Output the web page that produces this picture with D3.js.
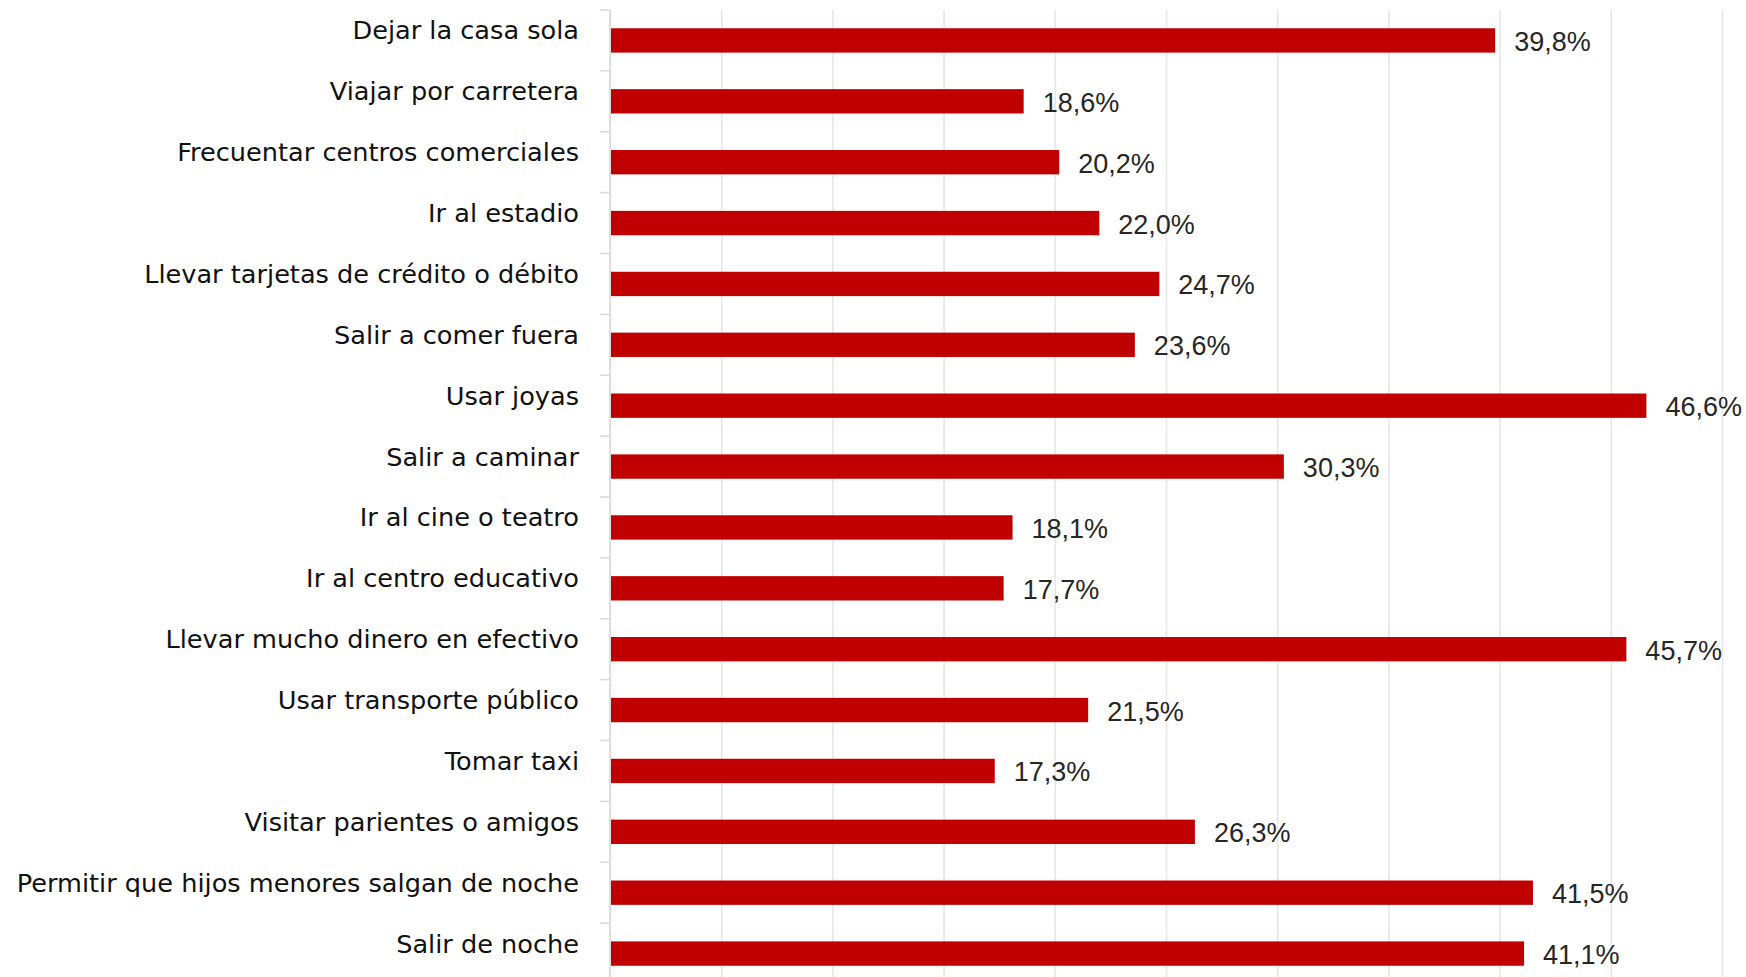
<!DOCTYPE html>
<html>
<head>
<meta charset="utf-8">
<script src="https://cdn.jsdelivr.net/npm/d3@7"></script>
<style>
  html, body { margin: 0; padding: 0; background: #fff; overflow: hidden; }
</style>
</head>
<body>
<svg></svg>
<script>
let categories = [
  'Dejar la casa sola',
  'Viajar por carretera',
  'Frecuentar centros comerciales',
  'Ir al estadio',
  'Llevar tarjetas de crédito o débito',
  'Salir a comer fuera',
  'Usar joyas',
  'Salir a caminar',
  'Ir al cine o teatro',
  'Ir al centro educativo',
  'Llevar mucho dinero en efectivo',
  'Usar transporte público',
  'Tomar taxi',
  'Visitar parientes o amigos',
  'Permitir que hijos menores salgan de noche',
  'Salir de noche'
]
let values = [39.8, 18.6, 20.2, 22.0, 24.7, 23.6, 46.6, 30.3, 18.1, 17.7, 45.7, 21.5, 17.3, 26.3, 41.5, 41.1]
let gridTicks = [0, 5, 10, 15, 20, 25, 30, 35, 40, 45, 50]

let width = 1746
let height = 977
let plotLeft = 610
let plotRight = 1722
let plotTop = 10
let plotBottom = 984

let locale = d3.formatLocale({ decimal: ',', thousands: '.', grouping: [3], currency: ['', ''] })
let pct = (v) => locale.format('.1f')(v) + '%'

let svg = d3.select('svg')
  .attr('width', width)
  .attr('height', height)

let xScale = d3.scaleLinear()
  .domain([0, 50])
  .range([plotLeft, plotRight])

let yScale = d3.scaleBand()
  .domain(categories)
  .range([plotTop, plotBottom])
  .paddingInner(0.6)
  .paddingOuter(0.3)

let step = yScale.step()

// gridlines
let grid = d3.axisBottom(xScale)
  .tickValues(gridTicks)
  .tickSize(-(height - plotTop))
  .tickFormat('')

svg.append('g')
  .attr('transform', 'translate(0,' + height + ')')
  .call(grid)
  .call(g => g.select('.domain').remove())
  .call(g => g.selectAll('.tick line')
    .attr('stroke', '#e6e6e6')
    .attr('stroke-width', 1.6))

// left axis line + ticks at band boundaries
svg.append('line')
  .attr('x1', xScale(0)).attr('x2', xScale(0))
  .attr('y1', plotTop).attr('y2', height)
  .attr('stroke', '#d9d9d9')
  .attr('stroke-width', 1.5)

svg.selectAll('.ytick')
  .data(categories)
  .enter()
  .append('line')
  .attr('class', 'ytick')
  .attr('x1', xScale(0) - 10)
  .attr('x2', xScale(0))
  .attr('y1', (d) => yScale(d) - yScale.paddingInner() * step / 2)
  .attr('y2', (d) => yScale(d) - yScale.paddingInner() * step / 2)
  .attr('stroke', '#d9d9d9')
  .attr('stroke-width', 1.5)

// bars
svg.selectAll('rect.bar')
  .data(values)
  .enter()
  .append('rect')
  .attr('class', 'bar')
  .attr('x', xScale(0) + 1)
  .attr('y', (d, i) => yScale(categories[i]))
  .attr('width', (d) => xScale(d) - xScale(0) - 1)
  .attr('height', yScale.bandwidth())
  .attr('fill', '#c00000')

// category labels
svg.selectAll('text.cat')
  .data(categories)
  .enter()
  .append('text')
  .attr('class', 'cat')
  .attr('x', 579)
  .attr('y', (d) => yScale(d) + yScale.bandwidth() / 2 - 1)
  .attr('text-anchor', 'end')
  .style('font-family', '"DejaVu Sans", sans-serif')
  .style('font-size', '25.6px')
  .style('fill', '#111')
  .text((d) => d)

// value labels
svg.selectAll('text.val')
  .data(values)
  .enter()
  .append('text')
  .attr('class', 'val')
  .attr('x', (d) => xScale(d) + 19)
  .attr('y', (d, i) => yScale(categories[i]) + yScale.bandwidth() / 2 + 10.5)
  .style('font-family', '"Liberation Sans", Arial, sans-serif')
  .style('font-size', '27px')
  .style('fill', '#262626')
  .text((d) => pct(d))
</script>
</body>
</html>
